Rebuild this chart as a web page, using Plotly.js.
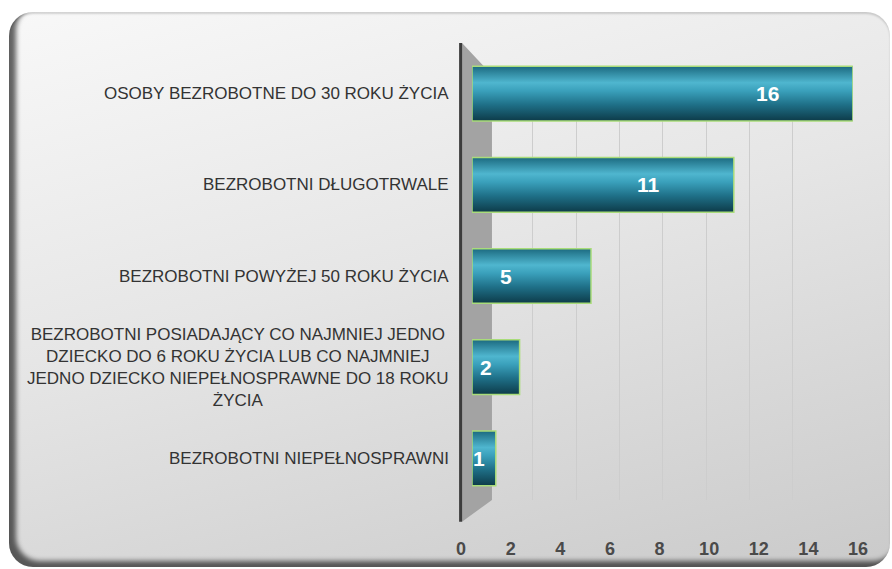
<!DOCTYPE html>
<html>
<head>
<meta charset="utf-8">
<script src="https://cdn.plot.ly/plotly-3.0.1.min.js"></script>
<style>
  body { margin: 0; background: #ffffff; }
  #card {
    position: absolute; left: 9px; top: 12px; width: 881px; height: 555px;
    border-radius: 24px;
    background: linear-gradient(165deg, #f8f8f8 0%, #e6e6e6 45%, #cacaca 100%);
    box-shadow: inset 7px -6px 5px rgba(0,0,0,0.6), inset 0 2px 2px rgba(0,0,0,0.15);
  }
  #chart { position: absolute; left: 0; top: 0; width: 892px; height: 569px; }
</style>
</head>
<body>
<div id="card"></div>
<div id="chart"></div>
<script>
// categories (top to bottom) and values
let categories = [
    'OSOBY BEZROBOTNE DO 30 ROKU ŻYCIA',
    'BEZROBOTNI DŁUGOTRWALE',
    'BEZROBOTNI POWYŻEJ 50 ROKU ŻYCIA',
    'BEZROBOTNI POSIADAJĄCY CO NAJMNIEJ JEDNO<br>DZIECKO DO 6 ROKU ŻYCIA LUB CO NAJMNIEJ<br>JEDNO DZIECKO NIEPEŁNOSPRAWNE DO 18 ROKU<br>ŻYCIA',
    'BEZROBOTNI NIEPEŁNOSPRAWNI'
];
let values = [16, 11, 5, 2, 1];
let tickValues = [0, 2, 4, 6, 8, 10, 12, 14, 16];
let gridValues = [2, 4, 6, 8, 10, 12, 14, 16];

let labelFont = 'Liberation Sans, Arial, sans-serif';

// 1. Trace data (bars sit on the front plane -> xaxis2)
let trace = {
    x: values,
    y: categories,
    xaxis: 'x2',
    yaxis: 'y',
    type: 'bar',
    orientation: 'h',
    width: 0.6,
    marker: {
        color: '#2a8aa3',
        line: { color: '#a9dc7a', width: 1.5 }
    },
    hoverinfo: 'none'
};

// empty traces so the gridline axis (x/y2) and the tick-label axis (x3/y) get drawn
let wallTrace = { x: [], y: [], xaxis: 'x', yaxis: 'y2', type: 'scatter', mode: 'markers', hoverinfo: 'none' };
let floorTrace = { x: [], y: [], xaxis: 'x3', yaxis: 'y', type: 'scatter', mode: 'markers', hoverinfo: 'none' };

// category labels (centered, right-aligned block) and value labels
let annotations = categories.map(c => ({
    x: -0.025, xref: 'paper', xanchor: 'right',
    y: c, yref: 'y', yanchor: 'middle',
    text: c, showarrow: false, align: 'center',
    font: { family: labelFont, size: 17, color: '#333333' }
}));

values.forEach((v, i) => {
    annotations.push({
        x: v, xref: 'x2', y: categories[i], yref: 'y',
        xshift: -Math.min(85, v * 17),
        text: '<b>' + v + '</b>', showarrow: false,
        font: { family: labelFont, size: 21, color: '#ffffff' }
    });
});

// 3d side wall next to the category axis
let shapes = [
    {
        type: 'path', xref: 'paper', yref: 'paper', layer: 'below',
        path: 'M 0.0025 1.011 L 0.078 0.941 L 0.078 0.009 L 0.0025 -0.039 Z',
        fillcolor: '#a3a3a3', line: { width: 0 }
    },
    {
        type: 'line', xref: 'paper', yref: 'paper', layer: 'below',
        x0: -0.001, x1: -0.001, y0: 1.011, y1: -0.039,
        line: { color: '#3c3c3c', width: 3 }
    }
];

// 3. Add layout information
let layout = {
    width: 892,
    height: 569,
    margin: { l: 461, r: 34, t: 48, b: 65 },
    paper_bgcolor: 'rgba(0,0,0,0)',
    plot_bgcolor: 'rgba(0,0,0,0)',
    showlegend: false,
    // back wall gridlines
    xaxis: {
        domain: [0.072, 0.945],
        anchor: 'y2',
        range: [0, 16],
        tickvals: gridValues,
        showticklabels: false, ticks: '',
        showgrid: true, gridcolor: '#cdcdcd', gridwidth: 1,
        zeroline: false, showline: false
    },
    // front plane where the bars are drawn
    xaxis2: {
        domain: [0.0277, 0.987],
        anchor: 'y',
        range: [0, 16],
        showticklabels: false, ticks: '',
        showgrid: false, zeroline: false, showline: false
    },
    // tick labels along the floor front edge
    xaxis3: {
        domain: [0, 1],
        anchor: 'y',
        range: [0, 16],
        tickvals: tickValues,
        ticks: 'outside', ticklen: 28, tickcolor: 'rgba(0,0,0,0)',
        tickfont: { family: labelFont, size: 18, color: '#4a4a4a', weight: 'bold' },
        showgrid: false, zeroline: false, showline: false
    },
    yaxis: {
        anchor: 'x2',
        autorange: 'reversed',
        showticklabels: false,
        showgrid: false, zeroline: false, showline: false
    },
    yaxis2: {
        domain: [0.009, 0.936],
        anchor: 'x',
        range: [0, 1],
        showticklabels: false, ticks: '',
        showgrid: false, zeroline: false, showline: false
    },
    annotations: annotations,
    shapes: shapes
};

// 4. Call on Plotly.newPlot and plot to an id
Plotly.newPlot('chart', [wallTrace, trace, floorTrace], layout, { displayModeBar: false, staticPlot: true }).then(gd => {
    // cylinder shading for the bars
    let svg = gd.querySelector('svg.main-svg');
    let ns = 'http://www.w3.org/2000/svg';
    let defs = svg.querySelector('defs') || svg.insertBefore(document.createElementNS(ns, 'defs'), svg.firstChild);
    let grad = document.createElementNS(ns, 'linearGradient');
    grad.setAttribute('id', 'cyl');
    grad.setAttribute('x1', '0'); grad.setAttribute('y1', '0');
    grad.setAttribute('x2', '0'); grad.setAttribute('y2', '1');
    [['0', '#1c6a80'], ['0.3', '#4fb6cf'], ['0.45', '#3aa0bb'], ['0.7', '#1f7088'], ['1', '#0d3b49']].forEach(s => {
        let stop = document.createElementNS(ns, 'stop');
        stop.setAttribute('offset', s[0]);
        stop.setAttribute('stop-color', s[1]);
        grad.appendChild(stop);
    });
    defs.appendChild(grad);
    gd.querySelectorAll('.barlayer .point path').forEach(p => { p.style.fill = 'url(#cyl)'; });
});
</script>
</body>
</html>
